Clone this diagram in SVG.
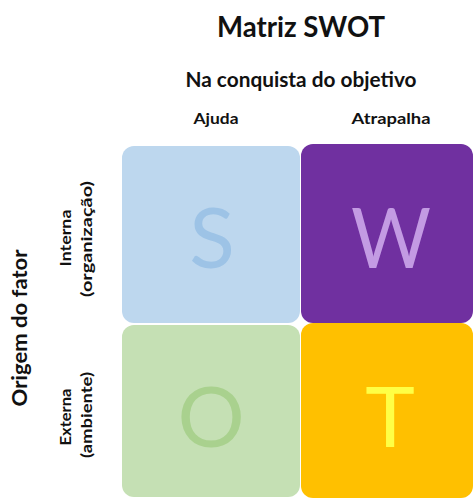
<svg xmlns="http://www.w3.org/2000/svg" width="473" height="498" viewBox="0 0 473 498">
<style>
.lbl{font-family:Lato,"Liberation Sans",sans-serif;font-weight:bold;fill:#111;text-anchor:middle}
.big{font-family:Lato,"Open Sans",sans-serif;font-weight:normal;font-size:84px;text-anchor:middle}
</style>
<rect width="473" height="498" fill="#fff"/>
<g id="title"><text class="lbl" x="301" y="37" font-size="28" textLength="168" lengthAdjust="spacingAndGlyphs">Matriz SWOT</text></g>
<g id="header"><text class="lbl" x="301" y="87" font-size="21" textLength="231" lengthAdjust="spacingAndGlyphs">Na conquista do objetivo</text></g>
<g id="col-ajuda"><text class="lbl" x="216" y="124" font-size="15" textLength="45" lengthAdjust="spacingAndGlyphs">Ajuda</text></g>
<g id="col-atrapalha"><text class="lbl" x="391" y="124" font-size="15" textLength="79" lengthAdjust="spacingAndGlyphs">Atrapalha</text></g>
<g id="row-header"><text class="lbl" transform="translate(27,328) rotate(-90)" font-size="20" textLength="157" lengthAdjust="spacingAndGlyphs">Origem do fator</text></g>
<g id="row-interna">
<text class="lbl" transform="translate(71,238) rotate(-90)" font-size="15" textLength="57" lengthAdjust="spacingAndGlyphs">Interna</text>
<text class="lbl" transform="translate(92,239) rotate(-90)" font-size="15" textLength="116" lengthAdjust="spacingAndGlyphs">(organização)</text>
</g>
<g id="row-externa">
<text class="lbl" transform="translate(71,417) rotate(-90)" font-size="15" textLength="57" lengthAdjust="spacingAndGlyphs">Externa</text>
<text class="lbl" transform="translate(92,415) rotate(-90)" font-size="15" textLength="86" lengthAdjust="spacingAndGlyphs">(ambiente)</text>
</g>
<g id="S"><rect x="122" y="146" width="178" height="177" rx="12" fill="#BDD7EE"/><text class="big" x="212" y="268" fill="#9DC3E6">S</text></g>
<g id="W"><rect x="301" y="144" width="172" height="179" rx="12" fill="#7030A0"/><text class="big" x="391" y="268" fill="#C39BE3" textLength="80" lengthAdjust="spacingAndGlyphs">W</text></g>
<g id="O"><rect x="122" y="325" width="178" height="172" rx="12" fill="#C5E0B4"/><text class="big" x="211" y="447" fill="#A9D18E">O</text></g>
<g id="T"><rect x="301" y="323" width="172" height="175" rx="12" fill="#FFC000"/><text class="big" x="390" y="447" fill="#FFFF45">T</text></g>
<g id="connectors"/>
</svg>
